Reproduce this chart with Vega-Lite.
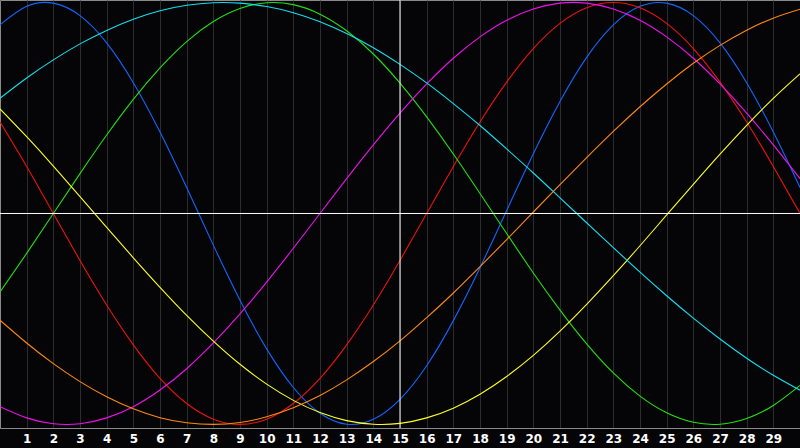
{
  "$schema": "https://vega.github.io/schema/vega-lite/v6.json",
  "width": 800,
  "height": 428,
  "autosize": {"type": "none"},
  "padding": {"left": 0, "top": 0, "right": 0, "bottom": 20},
  "background": "#050507",
  "config": {
    "view": {"stroke": "#8a8a8a", "strokeWidth": 1},
    "axis": {
      "labelOverlap": false,
      "labelFlush": false,
      "labelBound": false,
      "labelSeparation": 0,
      "labelFontSize": 12,
      "labelFont": "DejaVu Sans",
      "labelFontWeight": "bold",
      "labelColor": "#ffffff",
      "gridColor": "#2c2c2c",
      "domainColor": "#8a8a8a",
      "ticks": false
    }
  },
  "data": {
    "values": [
      {"day": 0, "Physical": 0.894, "Emotional": 0.434, "Intellectual": -0.372, "Intuitive": -0.916, "Aesthetic": 0.496, "Awareness": -0.506, "Spiritual": 0.546},
      {"day": 1, "Physical": 0.982, "Emotional": 0.223, "Intellectual": -0.189, "Intuitive": -0.969, "Aesthetic": 0.364, "Awareness": -0.614, "Spiritual": 0.642},
      {"day": 2, "Physical": 0.997, "Emotional": 0.0, "Intellectual": 0.0, "Intuitive": -0.997, "Aesthetic": 0.225, "Awareness": -0.712, "Spiritual": 0.728},
      {"day": 3, "Physical": 0.938, "Emotional": -0.223, "Intellectual": 0.189, "Intuitive": -0.997, "Aesthetic": 0.080, "Awareness": -0.797, "Spiritual": 0.804},
      {"day": 4, "Physical": 0.809, "Emotional": -0.434, "Intellectual": 0.372, "Intuitive": -0.969, "Aesthetic": -0.066, "Awareness": -0.869, "Spiritual": 0.868},
      {"day": 5, "Physical": 0.620, "Emotional": -0.623, "Intellectual": 0.541, "Intuitive": -0.916, "Aesthetic": -0.210, "Awareness": -0.926, "Spiritual": 0.921},
      {"day": 6, "Physical": 0.386, "Emotional": -0.782, "Intellectual": 0.690, "Intuitive": -0.837, "Aesthetic": -0.350, "Awareness": -0.968, "Spiritual": 0.961},
      {"day": 7, "Physical": 0.123, "Emotional": -0.901, "Intellectual": 0.815, "Intuitive": -0.736, "Aesthetic": -0.483, "Awareness": -0.992, "Spiritual": 0.987},
      {"day": 8, "Physical": -0.150, "Emotional": -0.975, "Intellectual": 0.910, "Intuitive": -0.614, "Aesthetic": -0.605, "Awareness": -1.000, "Spiritual": 0.999},
      {"day": 9, "Physical": -0.411, "Emotional": -1.000, "Intellectual": 0.972, "Intuitive": -0.476, "Aesthetic": -0.715, "Awareness": -0.991, "Spiritual": 0.997},
      {"day": 10, "Physical": -0.642, "Emotional": -0.975, "Intellectual": 0.999, "Intuitive": -0.325, "Aesthetic": -0.809, "Awareness": -0.964, "Spiritual": 0.981},
      {"day": 11, "Physical": -0.825, "Emotional": -0.901, "Intellectual": 0.990, "Intuitive": -0.165, "Aesthetic": -0.886, "Awareness": -0.921, "Spiritual": 0.952},
      {"day": 12, "Physical": -0.947, "Emotional": -0.782, "Intellectual": 0.945, "Intuitive": 0.0, "Aesthetic": -0.944, "Awareness": -0.863, "Spiritual": 0.909},
      {"day": 13, "Physical": -0.999, "Emotional": -0.623, "Intellectual": 0.866, "Intuitive": 0.165, "Aesthetic": -0.982, "Awareness": -0.789, "Spiritual": 0.853},
      {"day": 14, "Physical": -0.976, "Emotional": -0.434, "Intellectual": 0.756, "Intuitive": 0.325, "Aesthetic": -0.999, "Awareness": -0.702, "Spiritual": 0.786},
      {"day": 15, "Physical": -0.881, "Emotional": -0.223, "Intellectual": 0.618, "Intuitive": 0.476, "Aesthetic": -0.995, "Awareness": -0.604, "Spiritual": 0.707},
      {"day": 16, "Physical": -0.722, "Emotional": 0.0, "Intellectual": 0.458, "Intuitive": 0.614, "Aesthetic": -0.969, "Awareness": -0.494, "Spiritual": 0.619},
      {"day": 17, "Physical": -0.508, "Emotional": 0.223, "Intellectual": 0.282, "Intuitive": 0.736, "Aesthetic": -0.923, "Awareness": -0.377, "Spiritual": 0.521},
      {"day": 18, "Physical": -0.257, "Emotional": 0.434, "Intellectual": 0.095, "Intuitive": 0.837, "Aesthetic": -0.857, "Awareness": -0.252, "Spiritual": 0.417},
      {"day": 19, "Physical": 0.014, "Emotional": 0.623, "Intellectual": -0.095, "Intuitive": 0.916, "Aesthetic": -0.773, "Awareness": -0.124, "Spiritual": 0.306},
      {"day": 20, "Physical": 0.283, "Emotional": 0.782, "Intellectual": -0.282, "Intuitive": 0.969, "Aesthetic": -0.673, "Awareness": 0.007, "Spiritual": 0.192},
      {"day": 21, "Physical": 0.531, "Emotional": 0.901, "Intellectual": -0.458, "Intuitive": 0.997, "Aesthetic": -0.558, "Awareness": 0.137, "Spiritual": 0.074},
      {"day": 22, "Physical": 0.740, "Emotional": 0.975, "Intellectual": -0.618, "Intuitive": 0.997, "Aesthetic": -0.431, "Awareness": 0.265, "Spiritual": -0.044},
      {"day": 23, "Physical": 0.894, "Emotional": 1.000, "Intellectual": -0.756, "Intuitive": 0.969, "Aesthetic": -0.295, "Awareness": 0.389, "Spiritual": -0.162},
      {"day": 24, "Physical": 0.982, "Emotional": 0.975, "Intellectual": -0.866, "Intuitive": 0.916, "Aesthetic": -0.153, "Awareness": 0.506, "Spiritual": -0.278},
      {"day": 25, "Physical": 0.997, "Emotional": 0.901, "Intellectual": -0.945, "Intuitive": 0.837, "Aesthetic": -0.007, "Awareness": 0.614, "Spiritual": -0.390},
      {"day": 26, "Physical": 0.938, "Emotional": 0.782, "Intellectual": -0.990, "Intuitive": 0.736, "Aesthetic": 0.138, "Awareness": 0.712, "Spiritual": -0.496},
      {"day": 27, "Physical": 0.809, "Emotional": 0.623, "Intellectual": -0.999, "Intuitive": 0.614, "Aesthetic": 0.281, "Awareness": 0.797, "Spiritual": -0.595},
      {"day": 28, "Physical": 0.620, "Emotional": 0.434, "Intellectual": -0.972, "Intuitive": 0.476, "Aesthetic": 0.418, "Awareness": 0.869, "Spiritual": -0.686},
      {"day": 29, "Physical": 0.386, "Emotional": 0.223, "Intellectual": -0.910, "Intuitive": 0.325, "Aesthetic": 0.546, "Awareness": 0.926, "Spiritual": -0.767},
      {"day": 30, "Physical": 0.123, "Emotional": 0.0, "Intellectual": -0.815, "Intuitive": 0.165, "Aesthetic": 0.662, "Awareness": 0.968, "Spiritual": -0.838}
    ]
  },
  "layer": [
    {
      "transform": [
        {"fold": ["Physical", "Emotional", "Intellectual", "Intuitive", "Aesthetic", "Awareness", "Spiritual"], "as": ["cycle", "value"]}
      ],
      "mark": {"type": "line", "strokeWidth": 1.1, "interpolate": "natural", "clip": true},
      "encoding": {
        "x": {
          "field": "day",
          "type": "quantitative",
          "scale": {"domain": [0, 30], "nice": false, "zero": false},
          "axis": {
            "title": null,
            "values": [1, 2, 3, 4, 5, 6, 7, 8, 9, 10, 11, 12, 13, 14, 15, 16, 17, 18, 19, 20, 21, 22, 23, 24, 25, 26, 27, 28, 29],
            "grid": true,
            "labelPadding": 5,
            "labelDx": -3,
            "labelOverlap": false
          }
        },
        "y": {
          "field": "value",
          "type": "quantitative",
          "scale": {"domain": [-1.017, 1.012], "nice": false, "zero": false},
          "axis": null
        },
        "color": {
          "field": "cycle",
          "type": "nominal",
          "legend": null,
          "scale": {
            "domain": ["Physical", "Emotional", "Intellectual", "Intuitive", "Aesthetic", "Awareness", "Spiritual"],
            "range": ["#1166ff", "#ee1111", "#22e011", "#ee11ee", "#ffff22", "#ff8811", "#11e0f0"]
          }
        }
      }
    },
    {
      "data": {"values": [{"day": 15}]},
      "mark": {"type": "rule", "color": "#ffffff", "strokeWidth": 1},
      "encoding": {
        "x": {
          "field": "day",
          "type": "quantitative",
          "axis": {
            "title": null,
            "values": [1, 2, 3, 4, 5, 6, 7, 8, 9, 10, 11, 12, 13, 14, 15, 16, 17, 18, 19, 20, 21, 22, 23, 24, 25, 26, 27, 28, 29],
            "grid": true,
            "labelPadding": 5,
            "labelDx": -3,
            "labelOverlap": false
          }
        }
      }
    },
    {
      "data": {"values": [{"level": 0}]},
      "mark": {"type": "rule", "color": "#ffffff", "strokeWidth": 1},
      "encoding": {
        "y": {"field": "level", "type": "quantitative"}
      }
    }
  ]
}
